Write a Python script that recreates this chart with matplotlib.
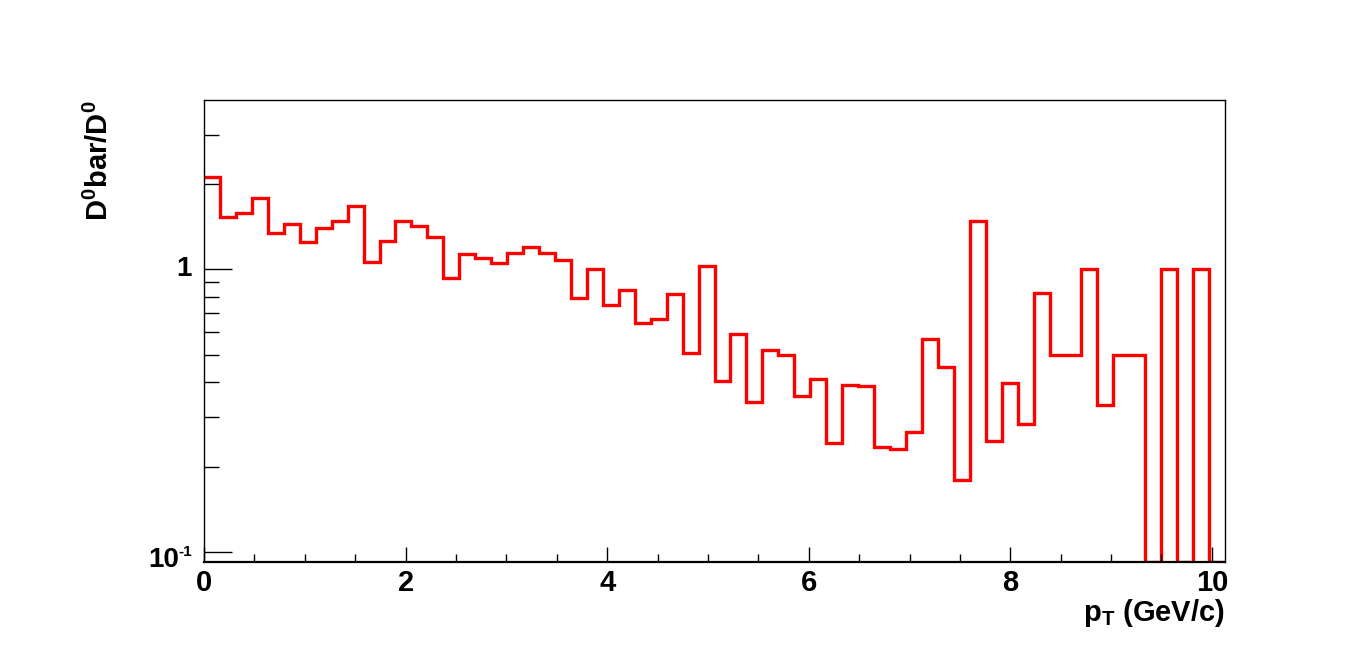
import numpy as np
import matplotlib
matplotlib.use('Agg')
import matplotlib.pyplot as plt
from matplotlib.ticker import LogLocator, FixedLocator, MultipleLocator, FuncFormatter, NullFormatter

plt.rcParams['font.family'] = ['Liberation Sans', 'DejaVu Sans']
plt.rcParams['font.weight'] = 'bold'
plt.rcParams['mathtext.fontset'] = 'custom'
plt.rcParams['mathtext.rm'] = 'Liberation Sans:bold'
plt.rcParams['mathtext.it'] = 'Liberation Sans:bold'
plt.rcParams['mathtext.bf'] = 'Liberation Sans:bold'
plt.rcParams['mathtext.default'] = 'rm'

# histogram definition (64 bins in pT)
pt_lo = 0.0
pt_hi = 10.13
nbins = 64

# D0bar/D0 ratio per bin (0 = empty bin)
ratio = [2.12, 1.53, 1.58, 1.79, 1.345, 1.45, 1.25, 1.40,
         1.48, 1.675, 1.06, 1.26, 1.48, 1.42, 1.30, 0.93,
         1.13, 1.095, 1.055, 1.14, 1.20, 1.145, 1.08, 0.79,
         1.0, 0.746, 0.845, 0.644, 0.667, 0.822, 0.508, 1.025,
         0.404, 0.589, 0.339, 0.518, 0.50, 0.356, 0.411, 0.244,
         0.389, 0.386, 0.235, 0.231, 0.265, 0.567, 0.452, 0.18,
         1.485, 0.248, 0.397, 0.285, 0.826, 0.5, 0.5, 1.0,
         0.331, 0.5, 0.5, 0, 1.0, 0, 1.0, 0]

ymin = 0.0922
ymax = 3.98
y_major = [0.1, 1]

edges = np.linspace(pt_lo, pt_hi, nbins + 1)
vals = np.array(ratio, dtype=float)
vals = np.where(vals > 0, vals, ymin)   # empty bins drop to the frame

fig = plt.figure(figsize=(13.62, 6.63), dpi=100)
ax = fig.add_axes([0.1498, 0.1523, 0.7496, 0.6969])

ax.stairs(vals, edges, baseline=None, color='#ff0000', linewidth=2.4)

ax.set_yscale('log')
ax.set_xlim(pt_lo, pt_hi)
ax.set_ylim(ymin, ymax)

ax.xaxis.set_major_locator(MultipleLocator(2))
ax.xaxis.set_minor_locator(MultipleLocator(0.5))
ax.yaxis.set_major_locator(FixedLocator(y_major))
ax.yaxis.set_minor_locator(LogLocator(base=10, subs=np.arange(2, 10)))
ax.yaxis.set_major_formatter(NullFormatter())
ax.yaxis.set_minor_formatter(NullFormatter())
ax.xaxis.set_major_formatter(FuncFormatter(lambda v, p: '%d' % v))

ax.tick_params(axis='x', which='major', direction='in', length=10.6, width=1,
               labelsize=21, pad=5, top=False)
ax.tick_params(axis='x', which='minor', direction='in', length=5.5, width=1, top=False)
ax.tick_params(axis='y', which='major', direction='in', length=20, width=1, right=False)
ax.tick_params(axis='y', which='minor', direction='in', length=10.6, width=1, right=False)

for s in ax.spines.values():
    s.set_linewidth(1.0)
ax.spines['bottom'].set_linewidth(1.6)

# y tick labels, ROOT style (1 and 10^-1 with a small "-1")
yt = ax.get_yaxis_transform()
for v in y_major:
    if v == 1:
        ax.annotate('1', xy=(0, v), xycoords=yt, xytext=(-12, 0), textcoords='offset pixels',
                    ha='right', va='center', fontsize=20, fontweight='bold')
    else:
        ax.annotate('10', xy=(0, v), xycoords=yt, xytext=(-24.5, -7.5), textcoords='offset pixels',
                    ha='right', va='center', fontsize=20, fontweight='bold')
        ax.annotate('-1', xy=(0, v), xycoords=yt, xytext=(-12, -4), textcoords='offset pixels',
                    ha='right', va='baseline', fontsize=11, fontweight='bold')

ax.set_xlabel(r'p$_{T}$ (GeV/c)', fontsize=21, fontweight='bold', loc='right')
ax.xaxis.label.set_verticalalignment('baseline')
ax.xaxis.set_label_coords(1.0, -0.1266)
ax.set_ylabel(r'D$^{0}$bar/D$^{0}$', fontsize=21, fontweight='bold', loc='top')
ax.yaxis.set_label_coords(-0.0885, 1.0)

fig.savefig('out.png', dpi=100)
